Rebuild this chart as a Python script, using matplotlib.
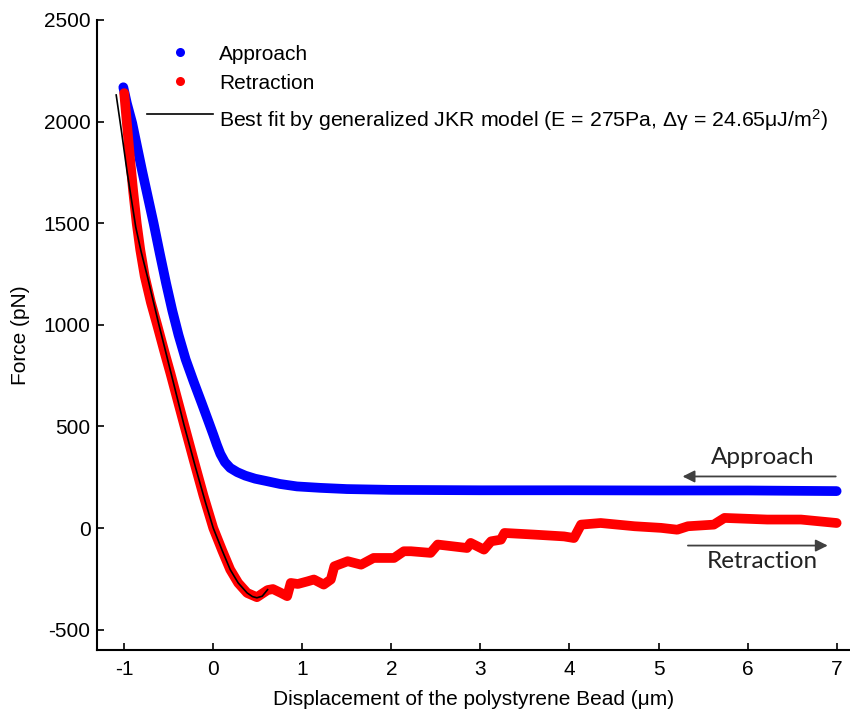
import matplotlib
matplotlib.use("Agg")
import matplotlib.pyplot as plt

plt.rcParams['font.family'] = ['Liberation Sans', 'DejaVu Sans']
plt.rcParams['mathtext.fontset'] = 'custom'
plt.rcParams['mathtext.rm'] = 'Liberation Sans'
plt.rcParams['mathtext.it'] = 'Liberation Sans:italic'
plt.rcParams['axes.unicode_minus'] = False

# Approach (blue)
approach_x = [-1.01, -0.97, -0.91, -0.80, -0.67, -0.60, -0.53, -0.46, -0.39, -0.31, -0.22,
              -0.13, -0.05, 0.0, 0.04, 0.08, 0.13, 0.19, 0.27, 0.36, 0.47, 0.59, 0.75,
              0.94, 1.2, 1.5, 2.0, 3.0, 4.0, 5.0, 6.0, 7.0]
approach_f = [2169, 2090, 1992, 1760, 1500, 1350, 1205, 1070, 950, 830, 720,
              615, 520, 460, 410, 365, 325, 296, 275, 258, 243, 232, 217,
              205, 198, 192, 188, 186, 186, 185, 185, 182]

# Retraction (red)
retract_x = [-1.0, -0.97, -0.935, -0.90, -0.86, -0.82, -0.77, -0.70, -0.63, -0.55, -0.48,
             -0.34, -0.22, -0.11, 0.0, 0.10, 0.19, 0.28, 0.38, 0.49, 0.61, 0.67, 0.76,
             0.83, 0.87, 0.95, 1.06, 1.13, 1.24, 1.32, 1.36, 1.51, 1.66, 1.80, 2.03,
             2.14, 2.22, 2.44, 2.52, 2.85, 2.89, 3.04, 3.12, 3.23, 3.27, 3.60, 3.94,
             4.05, 4.13, 4.35, 4.73, 5.03, 5.21, 5.33, 5.62, 5.74, 6.22, 6.60, 7.0]
retract_f = [2140, 1992, 1820, 1660, 1500, 1370, 1240, 1110, 1000, 870, 760,
             530, 335, 160, 0, -110, -204, -270, -319, -340, -305, -300, -319,
             -335, -270, -275, -262, -253, -278, -253, -188, -163, -180, -147, -147,
             -114, -114, -122, -81, -98, -73, -106, -65, -57, -24, -32, -41,
             -49, 17, 25, 9, 1, -8, 9, 17, 50, 42, 42, 25]

# Generalized JKR fit (black)
fit_x = [-1.09, -1.03, -0.97, -0.92, -0.87, -0.81, -0.74, -0.61, -0.47, -0.33, -0.20,
         -0.09, 0.0, 0.10, 0.19, 0.28, 0.38, 0.44, 0.49, 0.55, 0.61]
fit_f = [2131, 1950, 1760, 1620, 1480, 1360, 1238, 1000, 755, 510, 300,
         130, 0, -110, -204, -270, -319, -337, -343, -335, -303]

x_ticks = [-1, 0, 1, 2, 3, 4, 5, 6, 7]
y_ticks = [-500, 0, 500, 1000, 1500, 2000, 2500]

fig = plt.figure(figsize=(8.5, 7.14), dpi=100)
ax = fig.add_axes([0.1147, 0.0896, 0.8853, 0.8824])

ax.plot(approach_x, approach_f, '-', color='#0000ff', lw=7,
        solid_capstyle='round', solid_joinstyle='round', zorder=2)
ax.plot(retract_x, retract_f, '-', color='#ff0000', lw=7,
        solid_capstyle='round', solid_joinstyle='round', zorder=3)
ax.plot(fit_x, fit_f, '-', color='black', lw=1.2, zorder=4)

ax.set_xlim(-1.3, 7.15)
ax.set_ylim(-600, 2500)
ax.set_xticks(x_ticks)
ax.set_yticks(y_ticks)
ax.spines['top'].set_visible(False)
ax.spines['right'].set_visible(False)
for s in ('left', 'bottom'):
    ax.spines[s].set_linewidth(1.5)
ax.tick_params(direction='in', length=5, width=1.2, labelsize=15)
ax.tick_params(axis='x', pad=7)
ax.tick_params(axis='y', pad=5)

ax.set_xlabel('Displacement of the polystyrene Bead (\u03bcm)', fontsize=15, labelpad=8)
ax.set_ylabel('Force (pN)', fontsize=15, labelpad=10)

# Manual legend
tr = ax.transAxes
ax.plot([0.1098], [0.949], 'o', color='#0000ff', ms=6.5, mew=0, transform=tr, clip_on=False)
ax.plot([0.1098], [0.903], 'o', color='#ff0000', ms=6.5, mew=0, transform=tr, clip_on=False)
ax.plot([0.0659, 0.1533], [0.851, 0.851], '-', color='black', lw=1.2, transform=tr, clip_on=False)
ax.text(0.1617, 0.9365, 'Approach', fontsize=15, transform=tr, va='baseline')
ax.text(0.1617, 0.890, 'Retraction', fontsize=15, transform=tr, va='baseline')
ax.text(0.1617, 0.830,
        'Best fit by generalized JKR model (E = 275Pa, \u0394\u03b3 = 24.65\u03bcJ/m$^2$)',
        fontsize=15.3, transform=tr, va='baseline')

# Direction arrows
arrow_col = '#404040'
ax.annotate('', xy=(5.27, 254), xytext=(6.99, 254),
            arrowprops=dict(arrowstyle='-|>', color=arrow_col, lw=1.3,
                            mutation_scale=18, shrinkA=0, shrinkB=0))
ax.annotate('', xy=(6.90, -86), xytext=(5.33, -86),
            arrowprops=dict(arrowstyle='-|>', color=arrow_col, lw=1.3,
                            mutation_scale=18, shrinkA=0, shrinkB=0))
ax.text(6.17, 346, 'Approach', fontsize=17.5, family=['Lato', 'DejaVu Sans'],
        ha='center', va='center', color='#222222')
ax.text(6.17, -164, 'Retraction', fontsize=17.5, family=['Lato', 'DejaVu Sans'],
        ha='center', va='center', color='#222222')

fig.savefig('out.png', dpi=100)
